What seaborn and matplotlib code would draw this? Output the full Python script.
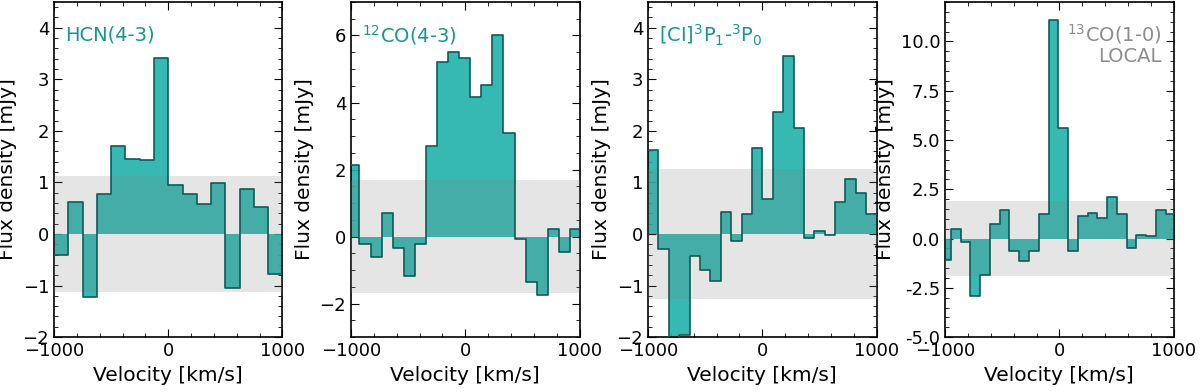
import numpy as np
import matplotlib
matplotlib.use('Agg')
import matplotlib.pyplot as plt
from matplotlib.ticker import AutoMinorLocator, MultipleLocator
import seaborn as sns

# channel centres [km/s] and flux densities [mJy]
vel_hcn = [-937.5, -812.5, -687.5, -562.5, -437.5, -312.5, -187.5, -62.5,
           62.5, 187.5, 312.5, 437.5, 562.5, 687.5, 812.5, 937.5]
flux_hcn = [-0.40, 0.62, -1.23, 0.78, 1.70, 1.46, 1.44, 3.42,
            0.95, 0.78, 0.58, 0.99, -1.04, 0.88, 0.53, -0.78]

vel_co43 = [-975, -878, -781, -684, -587, -490, -393, -296, -199, -102, -5,
            92, 189, 286, 383, 480, 577, 674, 771, 868, 965]
flux_co43 = [2.13, -0.22, -0.62, 0.70, -0.35, -1.17, -0.22, 2.70, 5.21, 5.50, 5.32,
             4.15, 4.52, 6.02, 3.09, -0.07, -1.37, -1.74, 0.23, -0.45, 0.22]

vel_ci = [-955.5, -864.5, -773.5, -682.5, -591.5, -500.5, -409.5, -318.5, -227.5, -136.5, -45.5,
          45.5, 136.5, 227.5, 318.5, 409.5, 500.5, 591.5, 682.5, 773.5, 864.5, 955.5]
flux_ci = [1.63, -0.30, -2.40, -1.96, -0.43, -0.69, -0.92, 0.42, -0.14, 0.38, 1.66,
           0.68, 2.37, 3.45, 2.06, -0.08, 0.06, -0.02, 0.63, 1.06, 0.79, 0.38]

vel_13co = [-992.5, -907, -821.5, -736, -650.5, -565, -479.5, -394, -308.5, -223, -137.5, -52,
            33.5, 119, 204.5, 290, 375.5, 461, 546.5, 632, 717.5, 803, 888.5, 974]
flux_13co = [-1.07, 0.46, -0.20, -2.93, -1.86, 0.76, 1.44, -0.64, -1.15, -0.64, 1.27, 11.07,
             5.59, -0.61, 1.15, 1.31, 1.02, 2.12, 1.27, -0.47, 0.20, 0.15, 1.44, 1.27]

# 1-sigma noise level per spectrum
rms = [1.13, 1.69, 1.27, 1.91]
ylims = [(-2, 4.5), (-3, 7), (-2, 4.5), (-5, 12)]
ymajor = [1, 2, 1, 2.5]
labels = ['HCN(4-3)', r'$^{12}$CO(4-3)', r'[CI]$^{3}$P$_{1}$-$^{3}$P$_{0}$',
          '$^{13}$CO(1-0)\nLOCAL']
label_colors = ['#17968f', '#17968f', '#17968f', '#8c8c8c']

spectra = [(vel_hcn, flux_hcn), (vel_co43, flux_co43), (vel_ci, flux_ci), (vel_13co, flux_13co)]


def channel_edges(centres):
    """bin edges from channel centres (half a channel beyond each end)"""
    c = np.asarray(centres, dtype=float)
    mids = 0.5 * (c[1:] + c[:-1])
    first = c[0] - 0.5 * (c[1] - c[0])
    last = c[-1] + 0.5 * (c[-1] - c[-2])
    return np.concatenate([[first], mids, [last]])


sns.set_style('ticks')
plt.rcParams['font.family'] = ['DejaVu Sans']
plt.rcParams.update({
    'xtick.direction': 'in', 'ytick.direction': 'in',
    'xtick.top': True, 'ytick.right': True,
    'xtick.major.size': 6, 'ytick.major.size': 6,
    'xtick.minor.size': 3, 'ytick.minor.size': 3,
    'xtick.labelsize': 13, 'ytick.labelsize': 13,
    'axes.labelsize': 14.5, 'axes.linewidth': 1.2,
    'xtick.color': 'black', 'ytick.color': 'black',
    'axes.labelcolor': 'black', 'axes.edgecolor': 'black', 'text.color': 'black',
})

fig, axes = plt.subplots(1, 4, figsize=(12, 3.92), dpi=100)
fig.subplots_adjust(left=0.045, right=0.978, bottom=0.14, top=0.995, wspace=0.3)

fill_col = 'lightseagreen'
edge_col = '#0f5b57'

for i, ax in enumerate(axes):
    v, f = spectra[i]
    edges = channel_edges(v)
    f_step = np.append(f, f[-1])
    ax.fill_between(edges, f_step, 0, step='post', color=fill_col, alpha=0.9, lw=0, zorder=2)
    ax.axhspan(-rms[i], rms[i], color='gray', alpha=0.2, lw=0, zorder=3)
    sns.lineplot(x=edges, y=f_step, ax=ax, drawstyle='steps-post', color=edge_col,
                 lw=1.2, zorder=4)

    ax.set_xlim(-1000, 1000)
    ax.set_ylim(*ylims[i])
    ax.set_xticks([-1000, 0, 1000])
    ax.yaxis.set_major_locator(MultipleLocator(ymajor[i]))
    ax.xaxis.set_minor_locator(AutoMinorLocator(5))
    ax.yaxis.set_minor_locator(AutoMinorLocator(4 if ymajor[i] == 2 else 5))
    ax.tick_params(which='both', top=True, right=True, colors='black')
    ax.set_xlabel('Velocity [km/s]')
    ax.set_ylabel('Flux density [mJy]')

    if i < 3:
        ax.text(0.05, 0.90, labels[i], transform=ax.transAxes, ha='left', va='center',
                fontsize=14, color=label_colors[i])
    else:
        ax.yaxis.set_major_formatter(plt.FormatStrFormatter('%.1f'))
        ax.text(0.947, 0.94, labels[i], transform=ax.transAxes, ha='right', va='top',
                multialignment='right', fontsize=14, color=label_colors[i],
                linespacing=1.05)

plt.savefig('out.png', dpi=100)
